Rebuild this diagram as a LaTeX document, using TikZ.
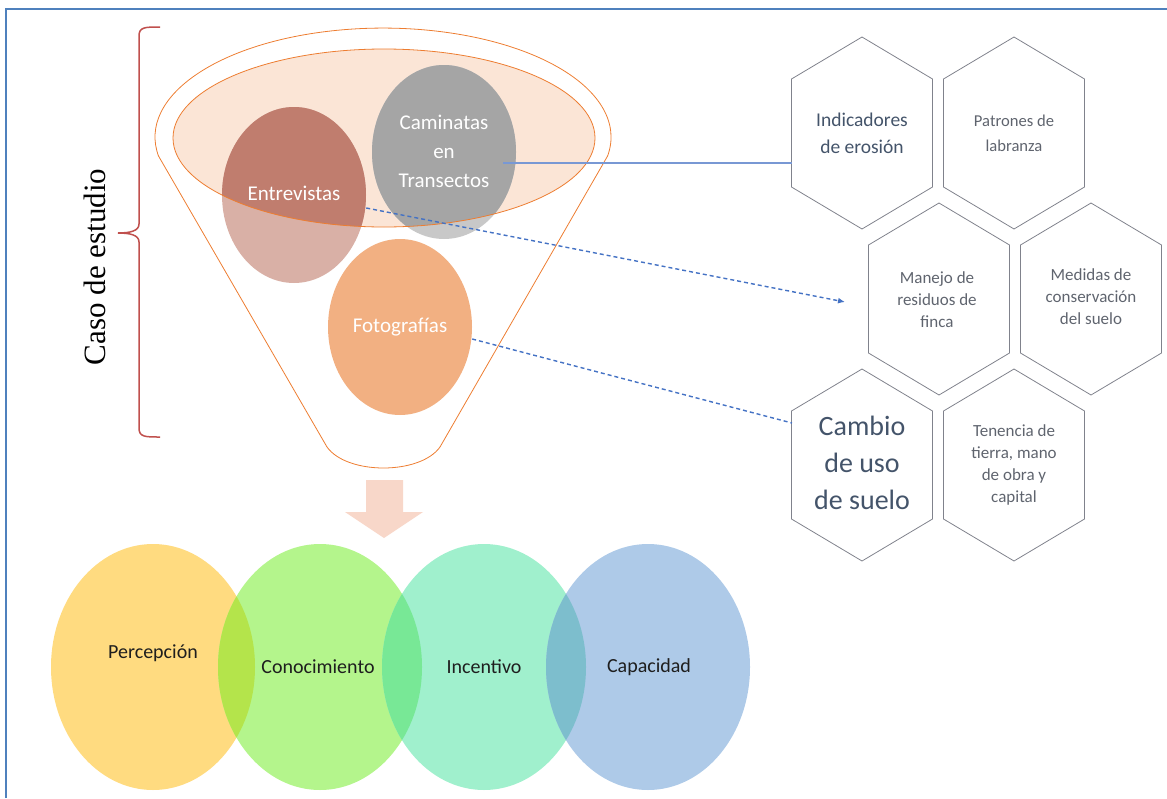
\documentclass[tikz,border=0pt]{standalone}
\usepackage{fontspec}
\setmainfont{Carlito}
\newfontfamily\timesfont{Liberation Serif}
\usetikzlibrary{arrows.meta,shapes.geometric}
\definecolor{frameblue}{RGB}{79,129,189}
\definecolor{bracered}{RGB}{192,80,77}
\definecolor{funnelor}{RGB}{237,125,49}
\definecolor{rimfill}{RGB}{251,229,214}
\definecolor{entrdark}{RGB}{192,125,110}
\definecolor{entrlight}{RGB}{217,176,166}
\definecolor{camidark}{RGB}{165,165,165}
\definecolor{camilight}{RGB}{200,200,200}
\definecolor{fotofill}{RGB}{242,176,130}
\definecolor{arrowpink}{RGB}{248,215,201}
\definecolor{hexgray}{RGB}{128,130,140}
\definecolor{slate}{RGB}{68,84,106}
\definecolor{hextext}{RGB}{95,100,110}
\definecolor{linkblue}{RGB}{68,114,196}
\definecolor{linklight}{RGB}{120,152,212}
\definecolor{yel}{RGB}{255,219,128}
\definecolor{grn}{RGB}{180,245,140}
\definecolor{aqu}{RGB}{160,240,205}
\definecolor{blu}{RGB}{174,202,232}
\definecolor{ovyg}{RGB}{180,228,75}
\definecolor{ovga}{RGB}{120,232,150}
\definecolor{ovab}{RGB}{125,190,205}
\definecolor{bubtext}{RGB}{30,30,30}
\tikzset{
  blob/.style={ellipse, inner sep=0pt, minimum width=144pt, minimum height=176pt,
    align=center, text=white, font=\fontsize{21}{29}\selectfont},
  bub/.style={ellipse, inner sep=0pt, minimum width=204pt, minimum height=246pt},
  bubtxt/.style={text=bubtext, font=\fontsize{20}{24}\selectfont},
  hexline/.style={draw=hexgray, line width=0.8pt},
  hexsmall/.style={align=center, text=hextext, font=\fontsize{17}{22}\selectfont},
  link/.style={draw=linkblue, line width=1.4pt, dash pattern=on 4pt off 3pt}
}
\begin{document}
\begin{tikzpicture}[x=1pt,y=-1pt]
\useasboundingbox (0,0) rectangle (1167,798);
% frame
\draw[frameblue, line width=2pt] (6,798) -- (6,9) -- (1167,9);
% brace and side label
\draw[bracered, line width=1.5pt] (160,27) .. controls (145,27) and (139,27) .. (139,36)
  -- (139,224) .. controls (139,231) and (130,233) .. (118,233)
  .. controls (130,233) and (139,235) .. (139,242) -- (139,428)
  .. controls (139,437) and (145,437) .. (160,437);
\node[rotate=90, font=\timesfont\fontsize{31}{31}\selectfont] (caso) at (95,267) {Caso de estudio};
% funnel
\draw[funnelor, line width=0.8pt] (158.5,156) arc[start angle=170, end angle=370, x radius=228, y radius=109]
  -- (440,447) .. controls (420,475) and (347,475) .. (327,447) -- cycle;
\fill[rimfill] (384,138) ellipse [x radius=211, y radius=89];
\fill[entrlight] (294,195) ellipse [x radius=72, y radius=88];
\fill[camilight] (444,152) ellipse [x radius=72, y radius=87];
\fill[fotofill] (400,327) ellipse [x radius=72, y radius=88];
\begin{scope}
\clip (384,138) ellipse [x radius=211, y radius=89];
\fill[entrdark] (294,195) ellipse [x radius=72, y radius=88];
\fill[camidark] (444,152) ellipse [x radius=72, y radius=87];
\end{scope}
\draw[funnelor, line width=0.8pt] (384,138) ellipse [x radius=211, y radius=89];
\node[blob] (entr) at (294,193) {Entrevistas};
\node[blob] (cami) at (444,151) {Caminatas\\en\\Transectos};
\node[blob] (foto) at (400,327) {Fotografías};
% arrow down
\fill[arrowpink] (366,480) -- (403,480) -- (403,512) -- (423,512) -- (384,538) -- (345,512) -- (366,512) -- cycle;
% hexagons
\foreach \cx/\cy in {862/133, 1014/133, 939/299, 1091/299, 862/465, 1014/465}
  \draw[hexline] (\cx-70.5,\cy-54) -- (\cx,\cy-96) -- (\cx+70.5,\cy-54)
    -- (\cx+70.5,\cy+54) -- (\cx,\cy+96) -- (\cx-70.5,\cy+54) -- cycle;
\node[align=center, text=slate, font=\fontsize{19.5}{27}\selectfont] (hind) at (862,133) {Indicadores\\de erosión};
\node[hexsmall, font=\fontsize{16.6}{25}\selectfont] (hpat) at (1014,133) {Patrones de\\labranza};
\node[hexsmall] (hman) at (937,300) {Manejo de\\residuos de\\finca};
\node[hexsmall] (hmed) at (1091,297) {Medidas de\\conservación\\del suelo};
\node[align=center, text=slate, font=\fontsize{28}{37}\selectfont] (hcam) at (862,463) {Cambio\\de uso\\de suelo};
\node[hexsmall] (hten) at (1014,465) {Tenencia de\\tierra, mano\\de obra y\\capital};
% links
\coordinate (hindw) at (792,163);
\coordinate (hmanw) at (845,302);
\coordinate (hcamw) at (792,423);
\draw[linklight, line width=1.1pt] ([xshift=-13pt,yshift=-12pt]cami.east) -- (hindw);
\draw[link, -{Latex[length=7pt,width=6pt]}] ([yshift=-15pt]entr.east) -- (hmanw);
\draw[link] ([yshift=-12pt]foto.east) -- (hcamw);
% bubbles
\node[bub, fill=yel] (perc) at (153,667) {};
\node[bub, fill=grn] (cono) at (320,667) {};
\node[bub, fill=aqu] (ince) at (484,667) {};
\node[bub, fill=blu] (capa) at (648,667) {};
\begin{scope}
\clip (153,667) ellipse [x radius=102, y radius=123];
\fill[ovyg] (320,667) ellipse [x radius=102, y radius=123];
\end{scope}
\begin{scope}
\clip (320,667) ellipse [x radius=102, y radius=123];
\fill[ovga] (484,667) ellipse [x radius=102, y radius=123];
\end{scope}
\begin{scope}
\clip (484,667) ellipse [x radius=102, y radius=123];
\fill[ovab] (648,667) ellipse [x radius=102, y radius=123];
\end{scope}
\node[bubtxt] (perct) at (153,653) {Percepción};
\node[bubtxt] (conot) at (318,667) {Conocimiento};
\node[bubtxt] (incet) at (484,667) {Incentivo};
\node[bubtxt] (capat) at (649,667) {Capacidad};
\end{tikzpicture}
\end{document}
